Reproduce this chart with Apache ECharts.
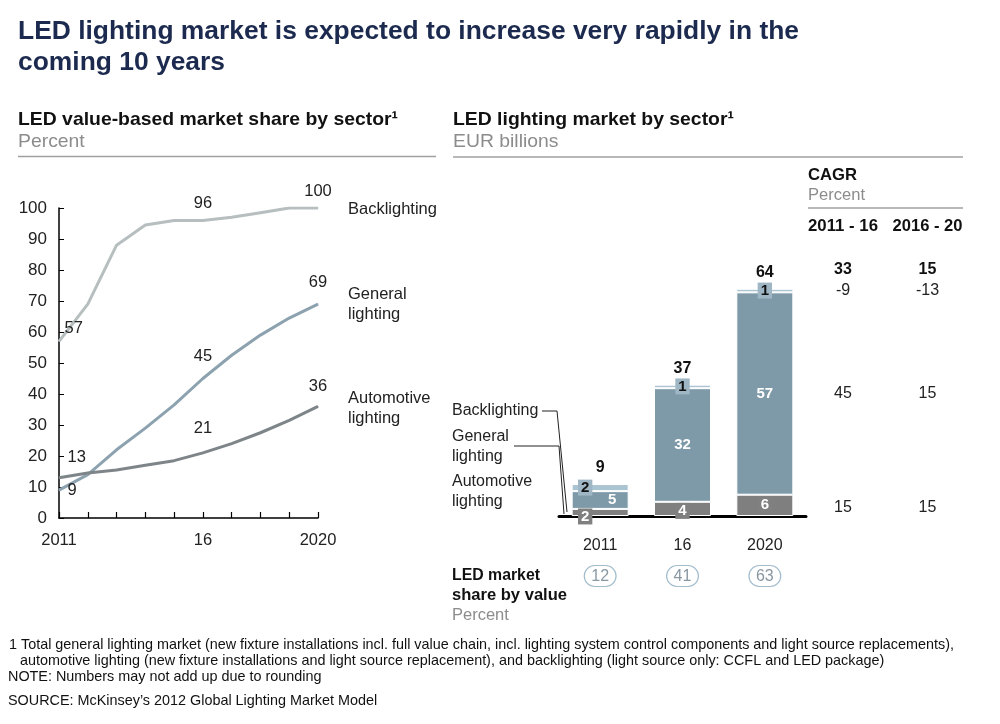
<!DOCTYPE html>
<html><head><meta charset="utf-8">
<script src="https://cdn.jsdelivr.net/npm/echarts@6/dist/echarts.min.js"></script>
<style>html,body{margin:0;padding:0;background:#fff}#c{width:1000px;height:724px}</style>
</head><body><div id="c"></div>
<script>
// ---- data ----
const years = ['2011','2012','2013','2014','2015','2016','2017','2018','2019','2020'];
const backlightingShare = [57, 69, 88, 94.5, 96, 96, 97, 98.5, 100, 100];
const generalShare = [9, 14, 22, 29, 36.5, 45, 52.5, 59, 64.5, 69];
const automotiveShare = [13, 14.5, 15.5, 17, 18.5, 21, 24, 27.5, 31.5, 36];
const shareTickLabels = {'2011': '2011', '2016': '16', '2020': '2020'};

const barCategories = ['2011', '16', '2020'];
const automotiveEur = [2, 4, 6];
const generalEur = [5, 32, 57];
const backlightingEur = [2, 1, 1];
const totalEur = [9, 37, 64];
const ledShareByValue = [12, 41, 63];
// rows: total, backlighting, general, automotive
const cagr2011_16 = [33, -9, 45, 15];
const cagr2016_20 = [15, -13, 15, 15];
const cagrHeaders = ['2011 - 16', '2016 - 20'];

const FONT = 'Liberation Sans, Arial, sans-serif';
const chart = echarts.init(document.getElementById('c'), null, {renderer: 'canvas'});

const measureCtx = document.createElement('canvas').getContext('2d');
function fitScale(text, size, weight, target) {
  measureCtx.font = (weight || 'normal') + ' ' + size + 'px ' + FONT;
  const w = measureCtx.measureText(text).width;
  return w > 0 ? target / w : 1;
}

function lbl(pos, off) { return {show: true, position: pos, offset: off, fontSize: 16.5, color: '#222', fontFamily: FONT}; }
function pointsWithLabels(arr, cfg) {
  return arr.map((v, i) => cfg[i] ? {value: v, label: cfg[i]} : v);
}

const lineCommon = {type: 'line', xAxisIndex: 0, yAxisIndex: 0, symbol: 'circle', symbolSize: 1, showSymbol: true, smooth: false, label: {show: false}, z: 3};

const barLabelBase = {show: true, position: 'inside', fontSize: 15, fontWeight: 'bold', fontFamily: FONT};

const option = {
  animation: false,
  backgroundColor: '#fff',
  textStyle: {fontFamily: FONT},
  grid: [
    {left: 59, top: 208, width: 259, height: 310},
    {left: 559, top: 232, width: 247, height: 284}
  ],
  xAxis: [
    {type: 'category', gridIndex: 0, data: years, boundaryGap: false,
     axisLine: {lineStyle: {color: '#000', width: 1.5}},
     axisTick: {inside: true, length: 6, lineStyle: {color: '#000', width: 1.2}},
     axisLabel: {interval: 0, formatter: v => shareTickLabels[v] || '', fontSize: 16.5, color: '#222', margin: 14, fontFamily: FONT},
     splitLine: {show: false}},
    {type: 'category', gridIndex: 1, data: barCategories,
     axisLine: {lineStyle: {color: '#000', width: 3}},
     axisTick: {show: false},
     axisLabel: {interval: 0, margin: 20, fontFamily: FONT,
       formatter: (v, i) => '{y|' + v + '}\n{c|' + ledShareByValue[i] + '}',
       rich: {
         y: {fontSize: 16, color: '#222', lineHeight: 20, fontFamily: FONT},
         c: {fontSize: 16, color: '#8a98a2', lineHeight: 40, borderColor: '#a3bdcc', borderWidth: 1.2, borderRadius: 12, padding: [3, 7, 2, 7], fontFamily: FONT}
       }},
     splitLine: {show: false}}
  ],
  yAxis: [
    {type: 'value', gridIndex: 0, min: 0, max: 100, interval: 10,
     axisLine: {show: true, lineStyle: {color: '#000', width: 1.5}},
     axisTick: {show: true, inside: true, length: 5, lineStyle: {color: '#000'}},
     axisLabel: {fontSize: 17, color: '#222', margin: 12, fontFamily: FONT},
     splitLine: {show: false}},
    {type: 'value', gridIndex: 1, min: 0, max: 80, show: false, splitLine: {show: false}}
  ],
  series: [
    Object.assign({}, lineCommon, {name: 'Backlighting',
      data: pointsWithLabels(backlightingShare, {0: lbl('right', [0, -13]), 5: lbl('top', [0, -3]), 9: lbl('top', [0, -3])}),
      lineStyle: {color: '#b7bebf', width: 3}, itemStyle: {color: '#b7bebf'}}),
    Object.assign({}, lineCommon, {name: 'General lighting',
      data: pointsWithLabels(generalShare, {0: lbl('right', [3, 0]), 5: lbl('top', [0, -8]), 9: lbl('top', [0, -8])}),
      lineStyle: {color: '#8ca2af', width: 3}, itemStyle: {color: '#8ca2af'}}),
    Object.assign({}, lineCommon, {name: 'Automotive lighting',
      data: pointsWithLabels(automotiveShare, {0: lbl('right', [3, -20]), 5: lbl('top', [0, -10]), 9: lbl('top', [0, -6])}),
      lineStyle: {color: '#7e8588', width: 3}, itemStyle: {color: '#7e8588'}}),

    {type: 'bar', name: 'Automotive', xAxisIndex: 1, yAxisIndex: 1, stack: 'eur', barWidth: 57,
     itemStyle: {color: '#7f7f7f', borderColor: '#fff', borderWidth: 1},
     label: Object.assign({}, barLabelBase, {color: '#fff', backgroundColor: '#808080', padding: [1, 3, 0, 3]}),
     data: automotiveEur.map((v, i) => i === 0 ? {value: v, label: {offset: [-15, 4]}} : (i === 1 ? {value: v, label: {offset: [0, 2]}} : v))},
    {type: 'bar', name: 'General', xAxisIndex: 1, yAxisIndex: 1, stack: 'eur', barWidth: 57,
     itemStyle: {color: '#7e99a8', borderColor: '#fff', borderWidth: 1},
     label: Object.assign({}, barLabelBase, {color: '#fff'}),
     data: generalEur.map((v, i) => i === 0 ? {value: v, label: {offset: [12, 0]}} : v)},
    {type: 'bar', name: 'Backlighting', xAxisIndex: 1, yAxisIndex: 1, stack: 'eur', barWidth: 57,
     itemStyle: {color: '#abc4d2', borderColor: '#fff', borderWidth: 1},
     label: Object.assign({}, barLabelBase, {color: '#111', backgroundColor: '#9fb6c4', padding: [1, 3, 0, 3]}),
     data: backlightingEur.map((v, i) => i === 0 ? {value: v, label: {offset: [-15, 0]}} : v)},
    {type: 'bar', name: 'Total', xAxisIndex: 1, yAxisIndex: 1, stack: 'eur', barWidth: 57,
     itemStyle: {color: 'transparent'},
     label: {show: true, position: 'top', offset: [0, -3], fontSize: 16, fontWeight: 'bold', color: '#111', fontFamily: FONT,
       formatter: p => String(totalEur[p.dataIndex])},
     data: totalEur.map(() => 0)}
  ]
};
chart.setOption(option);

// ---- annotations (text, rules) ----
function txt(x, y, s, o, targetWidth) {
  const st = Object.assign({text: s, fontFamily: FONT, fontSize: 16.5, fill: '#222', textVerticalAlign: 'middle'}, o || {});
  const el = {type: 'text', x: x, y: y, silent: true, style: st};
  if (targetWidth) el.scaleX = fitScale(s, st.fontSize, st.fontWeight, targetWidth);
  return el;
}
function hline(x1, x2, y, color, w) {
  return {type: 'line', silent: true, shape: {x1: x1, y1: y, x2: x2, y2: y}, style: {stroke: color, lineWidth: w}};
}
const g = [];
const titleStyle = {fontSize: 25, fontWeight: 'bold', fill: '#1b2a4e'};
const t1 = 'LED lighting market is expected to increase very rapidly in the';
const titleScale = fitScale(t1, 25, 'bold', 781);
g.push(Object.assign(txt(18, 32, t1, titleStyle), {scaleX: titleScale}));
g.push(Object.assign(txt(18, 63, 'coming 10 years', titleStyle), {scaleX: titleScale}));

const subB = {fontSize: 19, fontWeight: 'bold', fill: '#111'};
const subG = {fontSize: 19, fill: '#8c8c8c'};
const s1 = 'LED value-based market share by sector\u00b9';
const subScale = fitScale(s1, 19, 'bold', 380);
g.push(Object.assign(txt(18, 120, s1, subB), {scaleX: subScale}));
g.push(Object.assign(txt(18, 142, 'Percent', subG), {scaleX: subScale}));
g.push(hline(18, 436, 156.5, '#a0a0a0', 1.5));
g.push(Object.assign(txt(453, 120, 'LED lighting market by sector\u00b9', subB), {scaleX: subScale}));
g.push(Object.assign(txt(453, 142, 'EUR billions', subG), {scaleX: subScale}));
g.push(hline(453, 963, 157, '#a0a0a0', 1.5));

// line series names
g.push(txt(348, 209, 'Backlighting'));
g.push(txt(348, 294, 'General'));
g.push(txt(348, 314, 'lighting'));
g.push(txt(348, 398, 'Automotive'));
g.push(txt(348, 418, 'lighting'));

// bar legend labels
const lg = {fontSize: 16};
g.push(txt(452, 411, 'Backlighting', lg));
g.push(txt(452, 437, 'General', lg));
g.push(txt(452, 457, 'lighting', lg));
g.push(txt(452, 482, 'Automotive', lg));
g.push(txt(452, 502, 'lighting', lg));
g.push({type: 'polyline', silent: true, shape: {points: [[542, 411], [557, 411], [567, 512]]}, style: {stroke: '#222', lineWidth: 1, fill: null}});
g.push({type: 'polyline', silent: true, shape: {points: [[514, 446], [559, 446], [564, 514]]}, style: {stroke: '#222', lineWidth: 1, fill: null}});

// LED market share caption
g.push(txt(452, 576, 'LED market', {fontSize: 16, fontWeight: 'bold', fill: '#111'}, 88));
g.push(txt(452, 596, 'share by value', {fontSize: 16, fontWeight: 'bold', fill: '#111'}, 115));
g.push(txt(452, 615, 'Percent', {fontSize: 16.5, fill: '#8c8c8c'}));

// CAGR table
g.push(txt(808, 175, 'CAGR', {fontSize: 16.5, fontWeight: 'bold', fill: '#111'}, 49));
g.push(txt(808, 195, 'Percent', {fontSize: 16.5, fill: '#8c8c8c'}, 57));
g.push(hline(808, 963, 208, '#a0a0a0', 1.5));
const colX = [843, 927.5];
cagrHeaders.forEach((h, i) => {
  const sc = fitScale(h, 16, 'bold', 70);
  g.push({type: 'text', x: colX[i], y: 227, silent: true, scaleX: sc,
    style: {text: h, fontFamily: FONT, fontSize: 16, fontWeight: 'bold', fill: '#111', textAlign: 'center', textVerticalAlign: 'middle'}});
});
const last = barCategories.length - 1;
const px = v => chart.convertToPixel({xAxisIndex: 1, yAxisIndex: 1}, [last, v])[1];
const rowY = [
  px(totalEur[last]) - 19,
  px(automotiveEur[last] + generalEur[last] + backlightingEur[last] / 2),
  px(automotiveEur[last] + generalEur[last] / 2),
  px(automotiveEur[last] / 2) + 2
];
[cagr2011_16, cagr2016_20].forEach((col, ci) => {
  col.forEach((v, ri) => g.push(txt(colX[ci], rowY[ri], String(v), {fontSize: 16, textAlign: 'center', fontWeight: ri === 0 ? 'bold' : 'normal', fill: ri === 0 ? '#111' : '#222'})));
});

// footnotes
const fn = {fontSize: 14.4, fill: '#111'};
const f1 = '1 Total general lighting market (new fixture installations incl. full value chain, incl. lighting system control components and light source replacements),';
const fnScale = fitScale(f1, 14.4, 'normal', 945);
g.push(Object.assign(txt(9, 645, f1, fn), {scaleX: fnScale}));
g.push(Object.assign(txt(20, 661, 'automotive lighting (new fixture installations and light source replacement), and backlighting (light source only: CCFL and LED package)', fn), {scaleX: fnScale}));
g.push(Object.assign(txt(8, 677, 'NOTE: Numbers may not add up due to rounding', fn), {scaleX: fnScale}));
g.push(Object.assign(txt(8, 701, 'SOURCE: McKinsey\u2019s 2012 Global Lighting Market Model', fn), {scaleX: fnScale}));

chart.setOption({graphic: g});
</script></body></html>
